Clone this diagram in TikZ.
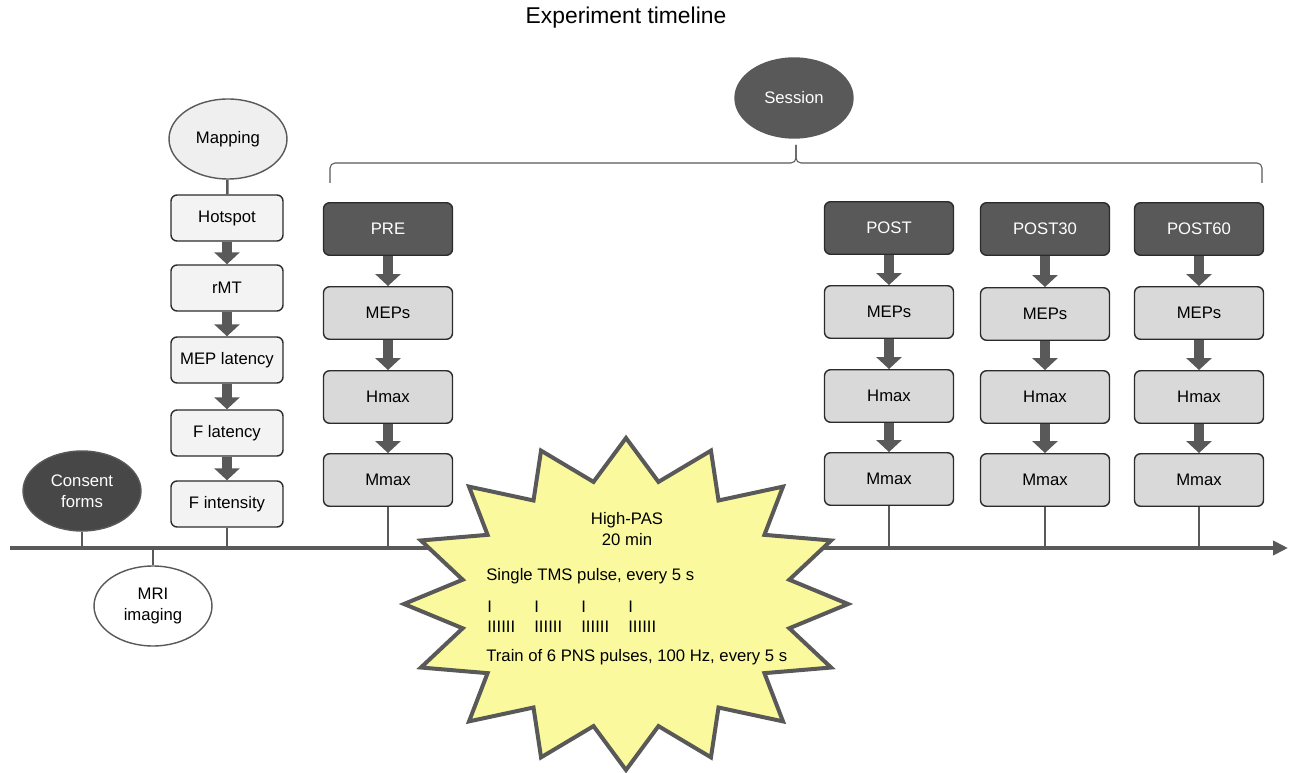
\documentclass[tikz,border=0pt]{standalone}
\usepackage{fontspec}
\setmainfont{Liberation Sans}
\usetikzlibrary{arrows.meta,shapes.geometric}

\definecolor{darkgrey}{HTML}{595959}
\definecolor{ovaldark}{HTML}{474747}
\definecolor{boxlight}{HTML}{F3F3F3}
\definecolor{boxgrey}{HTML}{D9D9D9}
\definecolor{ovallight}{HTML}{EFEFEF}
\definecolor{burstyellow}{HTML}{FBF99D}
\definecolor{edgeblack}{HTML}{2B2B2B}

\begin{document}
\begin{tikzpicture}[x=0.02cm, y=-0.02cm,
  every node/.style={font=\fontsize{9.5}{12}\selectfont},
  lightbox/.style={draw=edgeblack, fill=boxlight, rounded corners=0.12cm, line width=0.8pt, minimum width=2.24cm, minimum height=0.92cm},
  greybox/.style={draw=edgeblack, fill=boxgrey, rounded corners=0.12cm, line width=0.8pt, minimum width=2.58cm, minimum height=1.05cm},
  headbox/.style={greybox, fill=darkgrey, text=white},
  oval/.style={ellipse, draw=darkgrey, line width=0.8pt, minimum width=2.36cm, minimum height=1.6cm, align=center},
  blockarrow/.style={draw=darkgrey, line width=0.2cm, -{Triangle[length=0.24cm,width=0.5cm]}},
  link/.style={draw=darkgrey, line width=0.05cm}]
\useasboundingbox (0,0) rectangle (1295,773);

\node (title) at (626,18) {\fontsize{13}{15}\selectfont Experiment timeline};

% timeline
\coordinate (tlstart) at (10,548);
\coordinate (tlend) at (1288,548);
\draw[darkgrey, line width=0.08cm, -{Triangle[length=0.3cm,width=0.28cm]}] (tlstart) -- (tlend);

% session bracket
\node[oval, fill=darkgrey, text=white] (session) at (794,98) {Session};
\coordinate (bracetip) at (796,145);
\draw[darkgrey, line width=0.6pt, rounded corners=0.1cm] (330,183) -- (330,163) -- (796,163) -- (bracetip);
\draw[darkgrey, line width=0.6pt, rounded corners=0.1cm] (bracetip) -- (796,163) -- (1262,163) -- (1262,183);

% before the session
\node[oval, fill=ovaldark, text=white] (consent) at (82,491) {Consent\\forms};
\node[oval, fill=white] (mri) at (153,606) {MRI\\imaging};
\draw[link] (consent.south) -- (consent.south |- tlstart);
\draw[link] (mri.north) -- (mri.north |- tlstart);

\node[oval, fill=ovallight] (mapping) at (228,139) {Mapping};
\node[lightbox] (hotspot) at (227,218) {Hotspot};
\node[lightbox] (rmt) at (227,288) {rMT};
\node[lightbox] (meplat) at (227,360) {MEP latency};
\node[lightbox] (flat) at (227,433) {F latency};
\node[lightbox] (fint) at (227,504) {F intensity};
\draw[link] (mapping) -- (hotspot);
\draw[blockarrow] (hotspot) -- (rmt);
\draw[blockarrow] (rmt) -- (meplat);
\draw[blockarrow] (meplat) -- (flat);
\draw[blockarrow] (flat) -- (fint);
\draw[link] (fint.south) -- (fint.south |- tlstart);

% PRE
\node[headbox] (pre) at (388,229) {PRE};
\node[greybox] (premep) at (388,313) {MEPs};
\node[greybox] (prehmax) at (388,397) {Hmax};
\node[greybox] (premmax) at (388,480) {Mmax};
\draw[blockarrow] (pre) -- (premep);
\draw[blockarrow] (premep) -- (prehmax);
\draw[blockarrow] (prehmax) -- (premmax);
\draw[link] (premmax.south) -- (premmax.south |- tlstart);

% POST
\node[headbox] (post) at (889,228) {POST};
\node[greybox] (postmep) at (889,312) {MEPs};
\node[greybox] (posthmax) at (889,396) {Hmax};
\node[greybox] (postmmax) at (889,479) {Mmax};
\draw[blockarrow] (post) -- (postmep);
\draw[blockarrow] (postmep) -- (posthmax);
\draw[blockarrow] (posthmax) -- (postmmax);
\draw[link] (postmmax.south) -- (postmmax.south |- tlstart);

% POST30
\node[headbox] (postb) at (1045,229) {POST30};
\node[greybox] (postbmep) at (1045,314) {MEPs};
\node[greybox] (postbhmax) at (1045,397) {Hmax};
\node[greybox] (postbmmax) at (1045,480) {Mmax};
\draw[blockarrow] (postb) -- (postbmep);
\draw[blockarrow] (postbmep) -- (postbhmax);
\draw[blockarrow] (postbhmax) -- (postbmmax);
\draw[link] (postbmmax.south) -- (postbmmax.south |- tlstart);

% POST60
\node[headbox] (postc) at (1199,229) {POST60};
\node[greybox] (postcmep) at (1199,313) {MEPs};
\node[greybox] (postchmax) at (1199,397) {Hmax};
\node[greybox] (postcmmax) at (1199,480) {Mmax};
\draw[blockarrow] (postc) -- (postcmep);
\draw[blockarrow] (postcmep) -- (postchmax);
\draw[blockarrow] (postchmax) -- (postcmmax);
\draw[link] (postcmmax.south) -- (postcmmax.south |- tlstart);

% high-PAS burst
\coordinate (burst) at (626,604);
\draw[fill=burstyellow, draw=darkgrey, line width=0.08cm, line join=miter]
  plot[samples at={0,...,31}, variable=\k]
  ({626+222*(0.875+0.125*cos(180*\k))*sin(11.25*\k)}, {604-166*(0.875+0.125*cos(180*\k))*cos(11.25*\k)}) -- cycle;
\node[align=center] (pas) at (627,529) {High-PAS\\20 min};
\node[anchor=west, inner sep=0] (tms) at (486,576) {Single TMS pulse, every 5 s};
\foreach \px in {487,534,581,628} {
  \node[anchor=west, inner sep=0] (tms\px) at (\px,607) {I};
  \node[anchor=west, inner sep=0] (pns\px) at (\px,627) {IIIIII};
}
\node[anchor=west, inner sep=0] (pns) at (486,657) {Train of 6 PNS pulses, 100 Hz, every 5 s};
\end{tikzpicture}
\end{document}
